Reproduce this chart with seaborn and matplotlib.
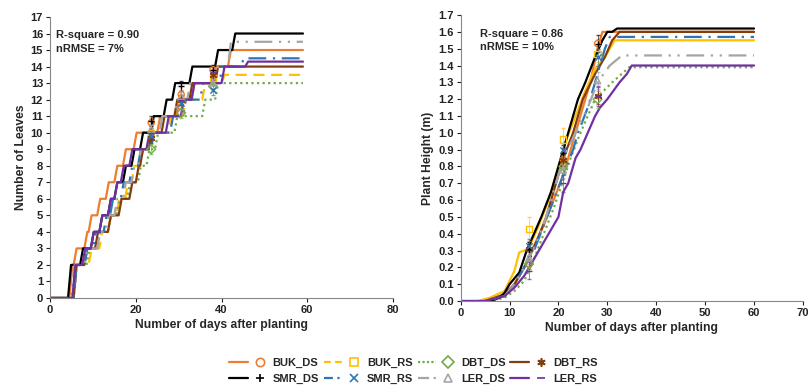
import numpy as np
import pandas as pd
import seaborn as sns
import matplotlib.pyplot as plt
from matplotlib.lines import Line2D
from matplotlib.legend_handler import HandlerTuple

# ---- series names and styles ----
names = ['BUK_DS', 'BUK_RS', 'DBT_DS', 'DBT_RS', 'SMR_DS', 'SMR_RS', 'LER_DS', 'LER_RS']
colors = ['#ED7D31', '#FFC000', '#70AD47', '#843C0C', '#000000', '#2E75B6', '#A5A5A5', '#7030A0']
dashes = ['-', (0, (5, 3)), (0, (1, 1.5)), '-', '-', (0, (8, 3, 1, 3)), (0, (8, 3, 1, 3, 1, 3)), '-']
# the height panel draws BUK_RS as a solid line
dashes_ht = ['-', '-', (0, (1, 1.5)), '-', '-', (0, (8, 3, 1, 3)), (0, (8, 3, 1, 3, 1, 3)), '-']
# shorter patterns so they show in the small legend handles
dashes_leg = ['-', (0, (3, 2)), (0, (1, 1)), '-', '-', (0, (4, 2, 1, 2)), (0, (5, 2, 1, 2, 1, 2)), '-']
markers = ['o', 's', 'D', (6, 2, 0), '+', 'x', '^', '_']

# ---- leaf number: days when the count steps up, and the levels ----
leaf_days = {
    'BUK_DS': [0, 4.5, 5.5, 8, 9, 11, 13, 15, 17, 19.5, 25, 29.5, 33, 37.5, 41.5, 59],
    'BUK_RS': [0, 5.5, 9, 11.5, 13.5, 15.5, 17.5, 19, 21, 23, 27.5, 31, 35.5, 40, 59],
    'DBT_DS': [0, 5.5, 8.5, 11, 13.5, 15.5, 18, 20.5, 22.5, 24.5, 29, 35.5, 38.5, 59],
    'DBT_RS': [0, 5.5, 8, 10.5, 13.5, 16, 18.5, 20, 21, 23, 26, 29, 32.5, 38.5, 59],
    'SMR_DS': [0, 4.2, 7, 9.5, 11.5, 13.5, 15, 17, 19, 21, 23.5, 26.5, 28.5, 32.5, 38.5, 42.5, 59],
    'SMR_RS': [0, 5.5, 8, 10, 12.5, 14, 16.5, 18.5, 20.5, 23.5, 28, 31, 35, 39.5, 44.5, 59],
    'LER_DS': [0, 5, 8, 11, 13, 15, 17, 19, 20.5, 22.5, 25.5, 29, 32, 38.5, 41.5, 59],
    'LER_RS': [0, 5.2, 7.5, 9.5, 11.5, 13.5, 15, 16.5, 18.5, 22.5, 27, 30.5, 33, 40, 45.5, 59],
}
leaf_vals = {
    'BUK_DS': [0, 2, 3, 4, 5, 6, 7, 8, 9, 10, 11, 12, 13, 14, 15, 15],
    'BUK_RS': [0, 2, 3, 4, 5, 6, 7, 8, 9, 10, 11, 12, 13, 13.5, 13.5],
    'DBT_DS': [0, 2, 3, 4, 5, 6, 7, 8, 9, 10, 11, 12, 13, 13],
    'DBT_RS': [0, 2, 3, 4, 5, 6, 7, 8, 9, 10, 11, 12, 13, 14, 14],
    'SMR_DS': [0, 2, 3, 4, 5, 6, 7, 8, 9, 10, 11, 12, 13, 14, 15, 16, 16],
    'SMR_RS': [0, 2, 3, 4, 5, 6, 7, 8, 9, 10, 11, 12, 13, 14, 14.5, 14.5],
    'LER_DS': [0, 2, 3, 4, 5, 6, 7, 8, 9, 10, 11, 12, 13, 14, 15.5, 15.5],
    'LER_RS': [0, 2, 3, 4, 5, 6, 7, 8, 9, 10, 11, 12, 13, 14, 14.3, 14.3],
}

# observed leaf numbers
obs_leaf_days = [23.6, 30.6, 38]
obs_leaf = {
    'BUK_DS': [10.6, 12.3, 13.8],
    'BUK_RS': [10.0, 12.0, 13.3],
    'DBT_DS': [9.0, 11.2, 12.8],
    'DBT_RS': [9.7, 12.0, 13.5],
    'SMR_DS': [10.7, 12.8, 13.8],
    'SMR_RS': [9.8, 11.8, 12.6],
    'LER_DS': [10.2, 12.2, 13.0],
    'LER_RS': [10.0, 12.0, 13.7],
}

# ---- plant height curves (m) ----
ht_days = {
    'BUK_DS': [0, 5, 9, 11, 13, 14.5, 17, 19, 21, 22.5, 24.5, 26.5, 28, 29, 60],
    'BUK_RS': [0, 3.5, 6, 9, 11, 12, 13, 14, 16, 18, 20, 21.5, 23.5, 25.5, 27.5, 29.5, 31.5, 60],
    'DBT_DS': [0, 6, 9, 11, 13, 15, 17, 19, 21, 22.5, 24.5, 26, 27.5, 31, 34.5, 60],
    'DBT_RS': [0, 5, 9, 11, 13, 15.5, 17.5, 19.5, 21, 23, 25, 27.5, 29.5, 31, 32.5, 60],
    'SMR_DS': [0, 6, 7, 8, 9, 10, 12, 13.5, 15, 16.5, 18.5, 20, 21.5, 23, 24, 25.5, 27.5, 29, 30, 31, 32, 60],
    'SMR_RS': [0, 5, 9, 11, 13, 15, 17, 19, 21, 23, 24, 26, 28, 29.5, 30.5, 60],
    'LER_DS': [0, 5, 9, 11, 13, 15.5, 17.5, 19.5, 21, 23.5, 26, 28, 30.5, 33, 60],
    'LER_RS': [0, 5, 9, 11, 13, 15, 17, 19, 20, 21, 22, 23.5, 24.5, 26, 27.5, 28.5, 30, 32.5, 34, 35, 60],
}
ht_vals = {
    'BUK_DS': [0, 0, 0.04, 0.1, 0.2, 0.3, 0.45, 0.6, 0.75, 0.9, 1.1, 1.3, 1.5, 1.6, 1.6],
    'BUK_RS': [0, 0, 0.02, 0.06, 0.18, 0.29, 0.3, 0.32, 0.45, 0.6, 0.8, 0.95, 1.1, 1.25, 1.38, 1.45, 1.55, 1.55],
    'DBT_DS': [0, 0, 0.02, 0.06, 0.12, 0.25, 0.4, 0.55, 0.72, 0.85, 1.0, 1.1, 1.2, 1.3, 1.39, 1.39],
    'DBT_RS': [0, 0, 0.04, 0.1, 0.2, 0.35, 0.5, 0.7, 0.85, 1.0, 1.2, 1.35, 1.45, 1.55, 1.6, 1.6],
    'SMR_DS': [0, 0, 0.01, 0.02, 0.05, 0.1, 0.17, 0.3, 0.4, 0.5, 0.65, 0.8, 0.95, 1.1, 1.2, 1.3, 1.45, 1.55, 1.6, 1.6, 1.62, 1.62],
    'SMR_RS': [0, 0, 0.03, 0.1, 0.2, 0.3, 0.45, 0.6, 0.75, 0.9, 1.0, 1.15, 1.35, 1.5, 1.57, 1.57],
    'LER_DS': [0, 0, 0.03, 0.1, 0.2, 0.35, 0.5, 0.7, 0.85, 1.0, 1.15, 1.3, 1.4, 1.46, 1.46],
    'LER_RS': [0, 0, 0.03, 0.08, 0.15, 0.25, 0.35, 0.45, 0.5, 0.65, 0.7, 0.85, 0.9, 1.0, 1.1, 1.15, 1.2, 1.3, 1.35, 1.4, 1.4],
}

# observed heights
obs_ht_days = [14, 21, 28]
obs_ht = {
    'BUK_DS': [0.22, 0.84, 1.53],
    'BUK_RS': [0.43, 0.96, 1.47],
    'DBT_DS': [0.22, 0.80, 1.20],
    'DBT_RS': [0.31, 0.84, 1.22],
    'SMR_DS': [0.31, 0.88, 1.53],
    'SMR_RS': [0.33, 0.90, 1.45],
    'LER_DS': [0.26, 0.78, 1.31],
    'LER_RS': [0.18, 0.70, 1.22],
}
obs_ht_err = {
    'BUK_DS': [0.03, 0.03, 0.03],
    'BUK_RS': [0.07, 0.07, 0.05],
    'DBT_DS': [0.03, 0.04, 0.05],
    'DBT_RS': [0.04, 0.04, 0.05],
    'SMR_DS': [0.04, 0.05, 0.05],
    'SMR_RS': [0.04, 0.04, 0.05],
    'LER_DS': [0.04, 0.05, 0.05],
    'LER_RS': [0.05, 0.05, 0.06],
}


def stairs(days, vals, ramp=0.7):
    # hold the previous level, then rise over a short ramp
    xs, ys = [days[0]], [vals[0]]
    for d, v, vp in zip(days[1:], vals[1:], vals[:-1]):
        if v != vp:
            xs += [d, d + ramp]
            ys += [vp, v]
        else:
            xs.append(d)
            ys.append(v)
    return xs, ys


sns.set_style('ticks')
plt.rcParams['font.family'] = ['Liberation Sans', 'DejaVu Sans']
plt.rcParams['font.weight'] = 'bold'
plt.rcParams['axes.labelweight'] = 'bold'

fig = plt.figure(figsize=(8.11, 3.86), dpi=100)
ax1 = fig.add_axes([0.0617, 0.228, 0.4229, 0.728])
ax2 = fig.add_axes([0.568, 0.220, 0.422, 0.741])

for i, n in enumerate(names):
    x, y = stairs(leaf_days[n], leaf_vals[n])
    sns.lineplot(x=x, y=y, ax=ax1, color=colors[i], lw=1.6, sort=False,
                 estimator=None, linestyle=dashes[i])
    sns.lineplot(x=ht_days[n], y=ht_vals[n], ax=ax2, color=colors[i], lw=1.6,
                 sort=False, estimator=None, linestyle=dashes_ht[i])

for i, n in enumerate(names):
    filled = markers[i] in ['+', 'x', '_'] or isinstance(markers[i], tuple)
    fc = colors[i] if filled else 'none'
    ax1.errorbar(obs_leaf_days, obs_leaf[n], yerr=0.3, fmt='none', ecolor=colors[i],
                 elinewidth=0.6, capsize=1.5, alpha=0.7)
    ax1.scatter(obs_leaf_days, obs_leaf[n], marker=markers[i], s=20,
                facecolors=fc, edgecolors=colors[i], linewidths=1.0, zorder=5)
    ax2.errorbar(obs_ht_days, obs_ht[n], yerr=obs_ht_err[n], fmt='none', ecolor=colors[i],
                 elinewidth=0.6, capsize=1.5, alpha=0.7)
    ax2.scatter(obs_ht_days, obs_ht[n], marker=markers[i], s=20,
                facecolors=fc, edgecolors=colors[i], linewidths=1.0, zorder=5)

ax1.set_xlim(0, 80)
ax1.set_ylim(0, 17)
ax1.set_xticks(range(0, 81, 20))
ax1.set_yticks(range(0, 18))
ax1.set_xlabel('Number of days after planting', fontsize=8.7, labelpad=3)
ax1.set_ylabel('Number of Leaves', fontsize=8.7, labelpad=3)
ax1.text(1.4, 15.9, 'R-square = 0.90', fontsize=8, fontweight='bold', va='center')
ax1.text(1.4, 15.05, 'nRMSE = 7%', fontsize=8, fontweight='bold', va='center')

ax2.set_xlim(0, 70)
ax2.set_ylim(0, 1.7)
ax2.set_xticks(range(0, 71, 10))
ax2.set_yticks(np.arange(0, 1.71, 0.1))
ax2.set_yticklabels([f'{v:.1f}' for v in np.arange(0, 1.71, 0.1)])
ax2.set_xlabel('Number of days after planting', fontsize=8.7, labelpad=3)
ax2.set_ylabel('Plant Height (m)', fontsize=8.7, labelpad=3)
ax2.text(3.9, 1.59, 'R-square = 0.86', fontsize=8, fontweight='bold', va='center')
ax2.text(3.9, 1.51, 'nRMSE = 10%', fontsize=8, fontweight='bold', va='center')

for ax in (ax1, ax2):
    sns.despine(ax=ax)
    ax.tick_params(labelsize=8, length=3, width=0.8, pad=2, colors='#222222')
    for lab in ax.get_xticklabels() + ax.get_yticklabels():
        lab.set_fontweight('bold')
    for s in ('left', 'bottom'):
        ax.spines[s].set_color('#888888')
        ax.spines[s].set_linewidth(0.8)

# legend: line segment followed by the marker, as in the original
handles = []
for i, n in enumerate(names):
    filled = markers[i] in ['+', 'x', '_'] or isinstance(markers[i], tuple)
    ln = Line2D([], [], color=colors[i], lw=1.6, linestyle=dashes_leg[i])
    mk = Line2D([], [], color=colors[i], marker=markers[i], linestyle='none', markersize=6,
                markerfacecolor=colors[i] if filled else 'none', markeredgewidth=1.2)
    handles.append((ln, mk))

# legend fills column by column; reorder so rows read BUK/DBT then SMR/LER
order = [0, 4, 1, 5, 2, 6, 3, 7]
fig.legend([handles[k] for k in order], [names[k] for k in order], ncol=4,
           loc='center', bbox_to_anchor=(0.51, 0.038),
           frameon=False, handlelength=3.6, columnspacing=0.4,
           handletextpad=0.3, labelspacing=0.55,
           handler_map={tuple: HandlerTuple(ndivide=None, pad=0.2)},
           prop={'weight': 'bold', 'size': 8})

fig.savefig('out.png', dpi=100)
